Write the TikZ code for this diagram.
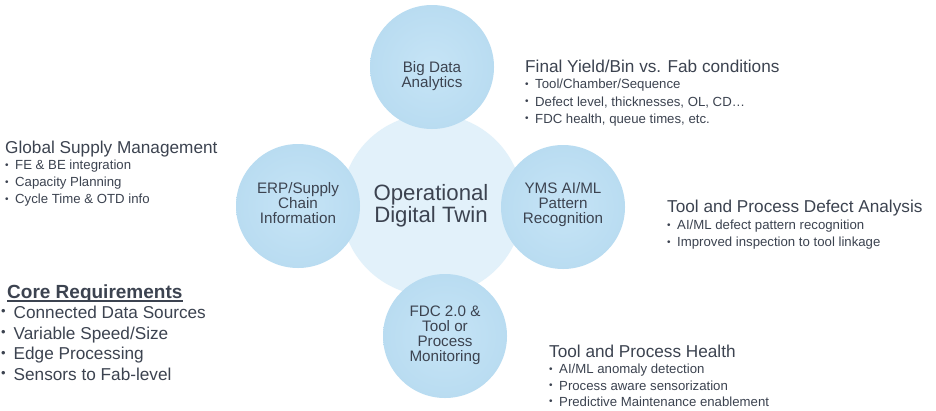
\documentclass[tikz,border=0pt]{standalone}
\usepackage{fontspec}
\setmainfont{Liberation Sans}
\definecolor{txt}{HTML}{3C4350}
\definecolor{spokefill}{HTML}{B9DCF1}
\definecolor{spokein}{HTML}{C6E4F6}
\definecolor{hubfill}{HTML}{E2F1FA}
\newcommand{\smbul}{\makebox[10pt][l]{\raisebox{0.2ex}{\fontsize{10}{10}\selectfont •}}}
\newcommand{\bgbul}{\makebox[12.5pt][l]{\raisebox{0.25ex}{\fontsize{13}{13}\selectfont •}}}
\begin{document}
\begin{tikzpicture}[x=1pt,y=-1pt,
  every node/.style={inner sep=0pt, text=txt},
  hub/.style={circle, fill=hubfill, minimum size=182pt},
  spoke/.style={circle, inner color=spokein, outer color=spokefill, minimum size=124pt},
  ctext/.style={align=center, font=\fontsize{15.2}{15}\selectfont},
  hubtext/.style={align=center, font=\fontsize{22.2}{22}\selectfont},
  head/.style={anchor=base west, font=\fontsize{17.2}{20}\selectfont},
  item/.style={anchor=base west, font=\fontsize{13.2}{15}\selectfont},
  corehead/.style={anchor=base west, font=\fontsize{19}{20}\selectfont\bfseries},
  coreitem/.style={anchor=base west, font=\fontsize{17.2}{20}\selectfont}]
\useasboundingbox[fill=white] (0,0) rectangle (936,410);

% circles
\node[hub] (hub) at (432,205) {};
\node[spoke] (bd) at (432,67) {};
\node[spoke] (erp) at (298,206) {};
\node[spoke] (yms) at (563,207) {};
\node[spoke] (fdc) at (445,336) {};

% circle texts
\node[hubtext] (hubt) at (431,205.5) {Operational\\Digital Twin};
\node[ctext] (bdt) at (432,76) {Big Data\\Analytics};
\node[ctext] (erpt) at (298,203) {ERP/Supply\\Chain\\Information};
\node[ctext] (ymst) at (563,205) {YMS AI/ML\\Pattern\\Recognition};
\node[ctext] (fdct) at (445,335.5) {FDC 2.0 \&\\Tool or\\Process\\Monitoring};

% Global Supply Management
\node[head] (gsm) at (5,153) {Global Supply Management};
\node[item] (gsm1) at (5,169.5) {\smbul FE \& BE integration};
\node[item] (gsm2) at (5,186.5) {\smbul Capacity Planning};
\node[item] (gsm3) at (5,203.5) {\smbul Cycle Time \& OTD info};

% Core Requirements
\node[corehead] (core) at (7,298) {Core Requirements};
\draw[txt, line width=1.8pt] ([yshift=-3.2pt]core.base west) -- ([yshift=-3.2pt]core.base east);
\node[coreitem] (core1) at (1,318) {\bgbul Connected Data Sources};
\node[coreitem] (core2) at (1,339) {\bgbul Variable Speed/Size};
\node[coreitem] (core3) at (1,359.5) {\bgbul Edge Processing};
\node[coreitem] (core4) at (1,380) {\bgbul Sensors to Fab-level};

% Final Yield
\node[head] (fy) at (525,72) {Final Yield/Bin vs. Fab conditions};
\node[item] (fy1) at (525,88.5) {\smbul Tool/Chamber/Sequence};
\node[item] (fy2) at (525,106) {\smbul Defect level, thicknesses, OL, CD…};
\node[item] (fy3) at (525,123) {\smbul FDC health, queue times, etc.};

% Defect analysis
\node[head] (da) at (667,212.5) {Tool and Process Defect Analysis};
\node[item] (da1) at (667,229.5) {\smbul AI/ML defect pattern recognition};
\node[item] (da2) at (667,246.5) {\smbul Improved inspection to tool linkage};

% Health
\node[head] (th) at (549,357.5) {Tool and Process Health};
\node[item] (th1) at (549,373.5) {\smbul AI/ML anomaly detection};
\node[item] (th2) at (549,390) {\smbul Process aware sensorization};
\node[item] (th3) at (549,406) {\smbul Predictive Maintenance enablement};
\end{tikzpicture}
\end{document}
